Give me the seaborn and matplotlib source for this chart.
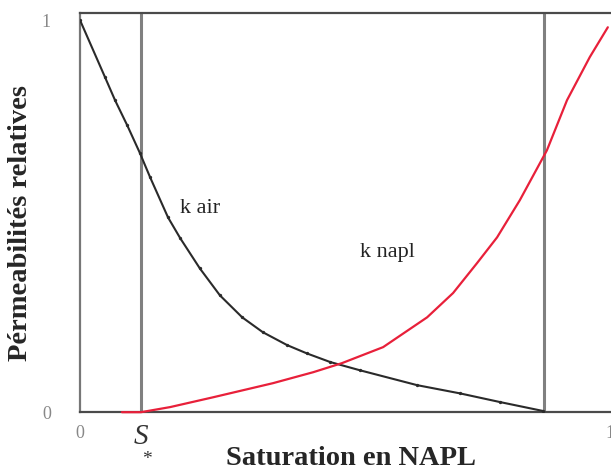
import numpy as np
import pandas as pd
import matplotlib
matplotlib.use("Agg")
import matplotlib.pyplot as plt
import seaborn as sns

# --- data ---
s_air = [0.0, 0.047, 0.066, 0.089, 0.113, 0.132, 0.166, 0.189, 0.226, 0.264,
         0.306, 0.345, 0.391, 0.428, 0.472, 0.528, 0.636, 0.717, 0.792, 0.874]
k_air = [1.0, 0.855, 0.796, 0.732, 0.661, 0.600, 0.497, 0.444, 0.367, 0.298,
         0.242, 0.204, 0.171, 0.150, 0.128, 0.107, 0.069, 0.048, 0.026, 0.003]

s_napl = [0.079, 0.115, 0.170, 0.251, 0.364, 0.440, 0.494, 0.572, 0.655, 0.704,
          0.749, 0.787, 0.830, 0.881, 0.919, 0.962, 0.996]
k_napl = [0.0, 0.0, 0.013, 0.038, 0.074, 0.102, 0.125, 0.166, 0.242, 0.304,
          0.380, 0.446, 0.541, 0.668, 0.796, 0.906, 0.982]

s_residual = 0.115
s_max = 0.876

x_ticks = [0, 1]
x_tick_labels = ["0", "1"]
y_ticks = [0, 1]
y_tick_labels = ["0", "1"]

curve_labels = ["k air", "k napl"]
curve_label_pos = [(0.226, 0.52), (0.581, 0.408)]

sns.set_theme(style="white")
plt.rcParams["font.family"] = ["Liberation Serif", "DejaVu Serif"]

fig = plt.figure(figsize=(6.11, 4.70), dpi=100)
ax = fig.add_axes([0.131, 0.123, 0.869, 0.849])

df_air = pd.DataFrame({"S": s_air, "k": k_air})
df_napl = pd.DataFrame({"S": s_napl, "k": k_napl})

ax.axvline(s_residual, color="#808080", lw=2.2, zorder=1)
ax.axvline(s_max, color="#808080", lw=2.2, zorder=1)

sns.lineplot(data=df_air, x="S", y="k", ax=ax, color="#2a2a2a", lw=1.5,
             sort=False, marker="o", markersize=2.4, markeredgewidth=0, zorder=3)
sns.lineplot(data=df_napl, x="S", y="k", ax=ax, color="#e8203a", lw=1.6,
             sort=False, zorder=4, clip_on=False)

ax.set_xlim(0, 1.002)
ax.set_ylim(0, 1.018)

ax.set_xticks(x_ticks)
ax.set_xticklabels(x_tick_labels, fontsize=13, color="#888888")
ax.set_yticks(y_ticks)
ax.set_yticklabels(y_tick_labels, fontsize=13, color="#888888")
ax.tick_params(axis="x", length=0, pad=9)
ax.tick_params(axis="y", length=0, pad=21)

for sp in ["left", "top", "bottom"]:
    ax.spines[sp].set_color("#4a4a4a")
    ax.spines[sp].set_linewidth(1.6)
ax.spines["left"].set_color("#777777")
ax.spines["right"].set_visible(False)

ax.set_xlabel("Saturation en NAPL", fontsize=20.5, fontweight="bold")
ax.xaxis.set_label_coords(0.51, -0.084)
ax.set_ylabel("Pérmeabilités relatives", fontsize=20.5, fontweight="bold")
ax.yaxis.set_label_coords(-0.088, 0.474)

for lab, (x, y) in zip(curve_labels, curve_label_pos):
    ax.text(x, y, lab, fontsize=16, ha="center", va="center", color="#222222")

ax.text(s_residual, -0.064, "S", fontsize=21, fontstyle="italic",
        ha="center", va="center", color="#333333", clip_on=False)
ax.text(s_residual + 0.012, -0.12, "*", fontsize=14,
        ha="center", va="center", color="#333333", clip_on=False)

fig.savefig("out.png", dpi=100)
